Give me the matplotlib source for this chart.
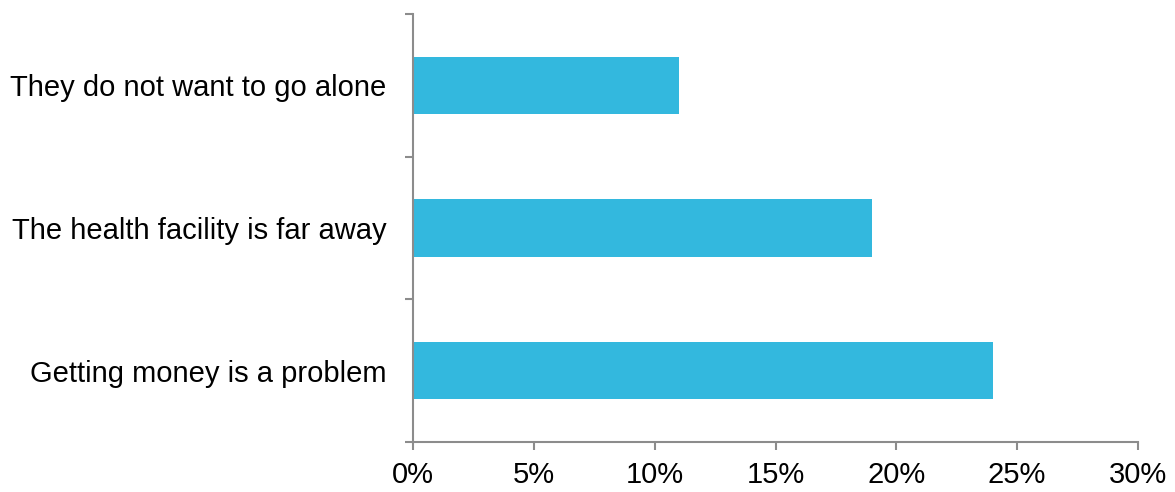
import matplotlib.pyplot as plt
from matplotlib.ticker import FuncFormatter

categories = ['Getting money is a problem', 'The health facility is far away', 'They do not want to go alone']
values = [24, 19, 11]
x_ticks = [0, 5, 10, 15, 20, 25, 30]

plt.rcParams['font.family'] = ['Liberation Sans', 'DejaVu Sans']

fig = plt.figure(figsize=(11.75, 4.92), dpi=100)
ax = fig.add_axes([0.3515, 0.1016, 0.6170, 0.8699])

pos = list(range(len(categories)))
ax.barh(pos, values, height=0.4, color='#33B8DE')

ax.set_xlim(0, 30)
ax.set_ylim(-0.5, len(categories) - 0.5)
ax.set_xticks(x_ticks)
ax.xaxis.set_major_formatter(FuncFormatter(lambda v, p: '{:.0f}%'.format(v)))

# category labels sit between ticks, ticks on the boundaries
ax.set_yticks([p - 0.5 for p in pos] + [len(categories) - 0.5])
ax.set_yticklabels([])
ax.set_yticks(pos, minor=True)
ax.set_yticklabels(categories, minor=True)
ax.tick_params(axis='y', which='minor', length=0, pad=19, labelsize=21)
ax.tick_params(axis='y', which='major', length=6, width=1.5, color='#8c8c8c', direction='out')
ax.tick_params(axis='x', length=6, width=1.5, color='#8c8c8c', pad=8, labelsize=21)

for s in ['top', 'right']:
    ax.spines[s].set_visible(False)
for s in ['left', 'bottom']:
    ax.spines[s].set_color('#8c8c8c')
    ax.spines[s].set_linewidth(1.5)

fig.savefig('out.png', dpi=100)
